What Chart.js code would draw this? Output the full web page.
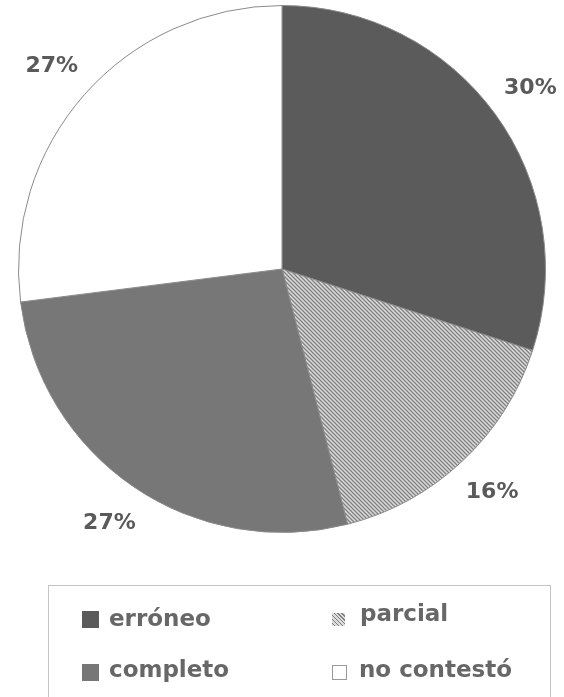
<!DOCTYPE html>
<html>
<head>
<meta charset="utf-8">
<script src="https://cdn.jsdelivr.net/npm/chart.js@4.4.1/dist/chart.umd.min.js"></script>
<style>
  html, body { margin: 0; padding: 0; background: #fff; }
  #wrap { position: relative; width: 564px; height: 697px; overflow: hidden; }
  #c { position: absolute; left: 0; top: 0; }
  #legend { position: absolute; left: 48px; top: 585px; width: 503px; height: 130px;
            border: 1px solid #c4c4c4; box-sizing: border-box; }
  .item { position: absolute; font-family: "DejaVu Sans", sans-serif; font-weight: bold;
          font-size: 23px; color: #676767; white-space: nowrap; line-height: 1; }
  .sw { position: absolute; box-sizing: border-box; }
</style>
</head>
<body>
<div id="wrap">
  <canvas id="c" width="564" height="697"></canvas>
  <div id="legend"></div>
</div>
<script>
const categories = ["erróneo", "parcial", "completo", "no contestó"];
const values = [30, 16, 27, 27];
const valueLabels = ["30%", "16%", "27%", "27%"];

function hatchPattern() {
  const p = document.createElement('canvas');
  p.width = 4; p.height = 4;
  const x = p.getContext('2d');
  x.fillStyle = '#dcdcdc';
  x.fillRect(0, 0, 4, 4);
  x.strokeStyle = '#808080';
  x.lineWidth = 1.3;
  x.beginPath();
  x.moveTo(-1, -1); x.lineTo(5, 5);
  x.moveTo(-1, 3); x.lineTo(1, 5);
  x.moveTo(3, -1); x.lineTo(5, 1);
  x.stroke();
  return x.createPattern(p, 'repeat');
}

const ctx = document.getElementById('c').getContext('2d');
const colors = ['#5b5b5b', hatchPattern(), '#777777', '#ffffff'];

const labelPlugin = {
  id: 'outerLabels',
  afterDatasetsDraw(chart) {
    const c = chart.ctx;
    const meta = chart.getDatasetMeta(0);
    c.save();
    c.font = 'bold 22px "DejaVu Sans", sans-serif';
    c.fillStyle = '#5a5a5a';
    c.textAlign = 'center';
    c.textBaseline = 'middle';
    meta.data.forEach((arc, i) => {
      const mid = (arc.startAngle + arc.endAngle) / 2;
      const r = arc.outerRadius * 1.165;
      c.fillText(valueLabels[i], arc.x + Math.cos(mid) * r, arc.y + Math.sin(mid) * r);
    });
    c.restore();
  }
};

new Chart(ctx, {
  type: 'pie',
  data: {
    labels: categories,
    datasets: [{
      data: values,
      backgroundColor: colors,
      borderColor: '#8a8a8a',
      borderWidth: 1
    }]
  },
  options: {
    responsive: false,
    animation: false,
    layout: { padding: { top: 5, bottom: 164, left: 18, right: 18 } },
    plugins: { legend: { display: false }, tooltip: { enabled: false } }
  },
  plugins: [labelPlugin]
});

// HTML legend built from the category list
const legend = document.getElementById('legend');
const legendPos = [
  { sx: 33, sy: 25, s: 17, tx: 60, ty: 21 },
  { sx: 283, sy: 27, s: 13, tx: 311, ty: 16 },
  { sx: 33, sy: 78, s: 17, tx: 60, ty: 72 },
  { sx: 283, sy: 79, s: 15, tx: 310, ty: 72 }
];
const swatchCss = [
  'background:#5b5b5b;',
  'background: repeating-linear-gradient(45deg, #dcdcdc 0 1.5px, #808080 1.5px 2.8px);',
  'background:#777777;',
  'background:#fff; border:1px solid #999;'
];
categories.forEach((name, i) => {
  const p = legendPos[i];
  const sw = document.createElement('div');
  sw.className = 'sw';
  sw.style.cssText = `left:${p.sx}px;top:${p.sy}px;width:${p.s}px;height:${p.s}px;` + swatchCss[i];
  legend.appendChild(sw);
  const t = document.createElement('div');
  t.className = 'item';
  t.style.left = p.tx + 'px';
  t.style.top = p.ty + 'px';
  t.textContent = name;
  legend.appendChild(t);
});
</script>
</body>
</html>
